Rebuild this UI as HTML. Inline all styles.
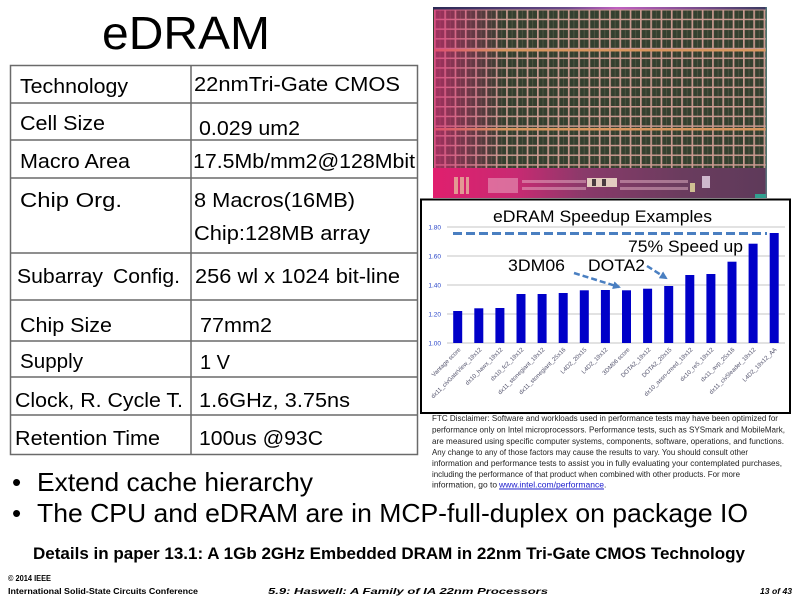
<!DOCTYPE html>
<html>
<head>
<meta charset="utf-8">
<style>
  html,body{margin:0;padding:0;background:#fff;}
  body{width:800px;height:600px;overflow:hidden;}
  svg{display:block;}
  .t{font-family:"Liberation Sans",Arial,sans-serif;}
</style>
</head>
<body>
<svg width="800" height="600" viewBox="0 0 800 600" xmlns="http://www.w3.org/2000/svg">
  <defs>
    <pattern id="grid" patternUnits="userSpaceOnUse" x="434" y="9" width="10.3" height="9.7">
      <rect width="10.3" height="9.7" fill="#34402f"/>
      <rect x="0" y="0" width="1.7" height="9.7" fill="#c99a90"/>
      <rect x="0" y="0" width="10.3" height="1.5" fill="#c99a90"/>
      <rect x="5.6" y="1.5" width="0.8" height="8.2" fill="#5a5a48"/>
    </pattern>
    <linearGradient id="leftmag" x1="0" y1="0" x2="1" y2="0">
      <stop offset="0" stop-color="#e0287a" stop-opacity="0.65"/>
      <stop offset="1" stop-color="#e0287a" stop-opacity="0"/>
    </linearGradient>
    <linearGradient id="peri" x1="0" y1="0" x2="1" y2="0">
      <stop offset="0" stop-color="#e01f6e"/>
      <stop offset="0.25" stop-color="#c82a72"/>
      <stop offset="0.45" stop-color="#8a3a6a"/>
      <stop offset="0.75" stop-color="#6a3c5e"/>
      <stop offset="1" stop-color="#5e3a5a"/>
    </linearGradient>
    <linearGradient id="topstrip" x1="0" y1="0" x2="1" y2="0">
      <stop offset="0" stop-color="#2a2a55"/>
      <stop offset="0.4" stop-color="#6a4a8a"/>
      <stop offset="0.55" stop-color="#c060c0"/>
      <stop offset="1" stop-color="#3a3a60"/>
    </linearGradient>
    <marker id="ah" markerWidth="8" markerHeight="8" refX="6" refY="4" orient="auto" markerUnits="userSpaceOnUse">
      <path d="M0,0 L8,4 L0,8 z" fill="#4a7fc1"/>
    </marker>
  </defs>

  <!-- Title -->
  <text class="t" x="102" y="49" font-size="46" textLength="168" lengthAdjust="spacingAndGlyphs" fill="#000">eDRAM</text>

  <!-- Table -->
  <g stroke="#6a6a6a" stroke-width="1.5" fill="none">
    <rect x="10.5" y="65.5" width="407" height="389"/>
    <line x1="191" y1="65.5" x2="191" y2="454.5"/>
    <line x1="10.5" y1="103" x2="417.5" y2="103"/>
    <line x1="10.5" y1="140" x2="417.5" y2="140"/>
    <line x1="10.5" y1="178" x2="417.5" y2="178"/>
    <line x1="10.5" y1="253" x2="417.5" y2="253"/>
    <line x1="10.5" y1="300" x2="417.5" y2="300"/>
    <line x1="10.5" y1="341" x2="417.5" y2="341"/>
    <line x1="10.5" y1="377" x2="417.5" y2="377"/>
    <line x1="10.5" y1="415" x2="417.5" y2="415"/>
  </g>
  <g class="t" font-size="20" fill="#000">
    <text x="20" y="93" textLength="108" lengthAdjust="spacingAndGlyphs">Technology</text>
    <text x="20" y="130" textLength="85" lengthAdjust="spacingAndGlyphs">Cell Size</text>
    <text x="20" y="168" textLength="110" lengthAdjust="spacingAndGlyphs">Macro Area</text>
    <text x="20" y="207" textLength="102" lengthAdjust="spacingAndGlyphs">Chip Org.</text>
    <text x="17" y="283" textLength="86" lengthAdjust="spacingAndGlyphs">Subarray</text>
    <text x="113" y="283" textLength="67" lengthAdjust="spacingAndGlyphs">Config.</text>
    <text x="20" y="332" textLength="92" lengthAdjust="spacingAndGlyphs">Chip Size</text>
    <text x="20" y="368" textLength="63" lengthAdjust="spacingAndGlyphs">Supply</text>
    <text x="15" y="407" textLength="168" lengthAdjust="spacingAndGlyphs">Clock, R. Cycle T.</text>
    <text x="15" y="445" textLength="145" lengthAdjust="spacingAndGlyphs">Retention Time</text>

    <text x="194" y="91" textLength="206" lengthAdjust="spacingAndGlyphs">22nmTri-Gate CMOS</text>
    <text x="199" y="135" textLength="101" lengthAdjust="spacingAndGlyphs">0.029 um2</text>
    <text x="193" y="168" textLength="222" lengthAdjust="spacingAndGlyphs">17.5Mb/mm2@128Mbit</text>
    <text x="194" y="207" textLength="161" lengthAdjust="spacingAndGlyphs">8 Macros(16MB)</text>
    <text x="194" y="240" textLength="176" lengthAdjust="spacingAndGlyphs">Chip:128MB array</text>
    <text x="195" y="283" textLength="205" lengthAdjust="spacingAndGlyphs">256 wl x 1024 bit-line</text>
    <text x="200" y="332" textLength="72" lengthAdjust="spacingAndGlyphs">77mm2</text>
    <text x="200" y="369" textLength="30" lengthAdjust="spacingAndGlyphs">1 V</text>
    <text x="199" y="407" textLength="151" lengthAdjust="spacingAndGlyphs">1.6GHz, 3.75ns</text>
    <text x="199" y="445" textLength="124" lengthAdjust="spacingAndGlyphs">100us @93C</text>
  </g>

  <!-- Die photo -->
  <g>
    <rect x="433" y="7" width="334" height="191" fill="#34402f"/>
    <rect x="434" y="9" width="332" height="159" fill="url(#grid)"/>
    <rect x="434" y="49" width="332" height="2.5" fill="#d8965e"/>
    <rect x="434" y="128" width="332" height="2.5" fill="#d8965e"/>
    <rect x="434" y="9" width="70" height="159" fill="url(#leftmag)"/>
    <rect x="433" y="7" width="334" height="2.5" fill="url(#topstrip)"/>
    <rect x="433" y="168" width="334" height="30" fill="url(#peri)"/>
    <g fill="#e8c0a0" opacity="0.75">
      <rect x="454" y="177" width="4" height="17"/>
      <rect x="460" y="177" width="4" height="17"/>
      <rect x="466" y="177" width="3" height="17"/>
    </g>
    <g fill="#f0c0d0" opacity="0.45">
      <rect x="488" y="178" width="30" height="15"/>
      <rect x="522" y="180" width="64" height="3"/>
      <rect x="522" y="187" width="64" height="3"/>
      <rect x="620" y="180" width="68" height="3"/>
      <rect x="620" y="187" width="68" height="3"/>
    </g>
    <g fill="#f4e6d0" opacity="0.85">
      <rect x="587" y="178" width="30" height="9"/>
    </g>
    <rect x="592" y="179" width="4" height="7" fill="#4a3a40"/>
    <rect x="602" y="179" width="4" height="7" fill="#4a3a40"/>
    <rect x="702" y="176" width="8" height="12" fill="#e8d8e8" opacity="0.8"/>
    <rect x="690" y="183" width="5" height="9" fill="#e8e0a0" opacity="0.8"/>
    <rect x="755" y="194" width="11" height="4" fill="#30a090"/>
    <rect x="765.5" y="7" width="1.5" height="191" fill="#5a8a8a" opacity="0.7"/>
  </g>

  <!-- Chart box -->
  <rect x="421" y="199.5" width="369" height="213.5" fill="#fff" stroke="#000" stroke-width="2"/>

  <!-- gridlines -->
  <g stroke="#c4c4c4" stroke-width="1">
    <line x1="447" y1="227" x2="785" y2="227"/>
    <line x1="447" y1="256" x2="785" y2="256"/>
    <line x1="447" y1="285" x2="785" y2="285"/>
    <line x1="447" y1="314" x2="785" y2="314"/>
    <line x1="447" y1="343" x2="785" y2="343"/>
  </g>
  <g class="t" font-size="6.5" fill="#2a46c8" text-anchor="end">
    <text x="441" y="229.5">1.80</text>
    <text x="441" y="258.5">1.60</text>
    <text x="441" y="287.5">1.40</text>
    <text x="441" y="316.5">1.20</text>
    <text x="441" y="345.5">1.00</text>
  </g>

  <!-- bars -->
  <g fill="#0000c8">
    <rect x="453.2" y="311" width="9" height="32"/>
    <rect x="474.3" y="308.3" width="9" height="34.7"/>
    <rect x="495.4" y="308" width="9" height="35"/>
    <rect x="516.5" y="294" width="9" height="49"/>
    <rect x="537.6" y="294" width="9" height="49"/>
    <rect x="558.7" y="293" width="9" height="50"/>
    <rect x="579.8" y="290.3" width="9" height="52.7"/>
    <rect x="600.9" y="290" width="9" height="53"/>
    <rect x="622.0" y="290.3" width="9" height="52.7"/>
    <rect x="643.1" y="288.7" width="9" height="54.3"/>
    <rect x="664.2" y="286" width="9" height="57"/>
    <rect x="685.3" y="275" width="9" height="68"/>
    <rect x="706.4" y="274" width="9" height="69"/>
    <rect x="727.5" y="261.7" width="9" height="81.3"/>
    <rect x="748.6" y="243.7" width="9" height="99.3"/>
    <rect x="769.7" y="233" width="9" height="110"/>
  </g>

  <!-- dashed 75% line -->
  <line x1="453" y1="233.5" x2="767" y2="233.5" stroke="#4a7fc1" stroke-width="3" stroke-dasharray="9 4"/>

  <!-- x labels -->
  <g class="t" font-size="6" fill="#50506a" text-anchor="end">
    <text transform="translate(461,350) rotate(-45)">Vantage score</text>
    <text transform="translate(482,350) rotate(-45)">dx11_civGateView_19x12</text>
    <text transform="translate(503,350) rotate(-45)">dx10_hawx_19x12</text>
    <text transform="translate(524,350) rotate(-45)">dx10_fc2_19x12</text>
    <text transform="translate(545,350) rotate(-45)">dx11_stonegiant_19x12</text>
    <text transform="translate(566,350) rotate(-45)">dx11_stonegiant_25x16</text>
    <text transform="translate(587,350) rotate(-45)">L4D2_20x15</text>
    <text transform="translate(608,350) rotate(-45)">L4D2_19x12</text>
    <text transform="translate(630,350) rotate(-45)">3DM06 score</text>
    <text transform="translate(651,350) rotate(-45)">DOTA2_19x12</text>
    <text transform="translate(672,350) rotate(-45)">DOTA2_20x15</text>
    <text transform="translate(693,350) rotate(-45)">dx10_assn-creed_19x12</text>
    <text transform="translate(714,350) rotate(-45)">dx10_re5_19x12</text>
    <text transform="translate(735,350) rotate(-45)">dx11_avp_25x16</text>
    <text transform="translate(756,350) rotate(-45)">dx11_civ5leader_19x12</text>
    <text transform="translate(777,350) rotate(-45)">L4D2_19x12_AA</text>
  </g>

  <!-- chart title & annotations -->
  <text class="t" x="493" y="222" font-size="17" textLength="219" lengthAdjust="spacingAndGlyphs" fill="#000">eDRAM Speedup Examples</text>
  <text class="t" x="628" y="252" font-size="17" textLength="115" lengthAdjust="spacingAndGlyphs" fill="#000">75% Speed up</text>
  <text class="t" x="508" y="271" font-size="17" textLength="57" lengthAdjust="spacingAndGlyphs" fill="#000">3DM06</text>
  <text class="t" x="588" y="271" font-size="17" textLength="57" lengthAdjust="spacingAndGlyphs" fill="#000">DOTA2</text>
  <line x1="574" y1="273" x2="619" y2="287" stroke="#4a7fc1" stroke-width="2.5" stroke-dasharray="6 3" marker-end="url(#ah)"/>
  <line x1="647" y1="266" x2="666" y2="278" stroke="#4a7fc1" stroke-width="2.5" stroke-dasharray="6 3" marker-end="url(#ah)"/>

  <!-- disclaimer -->
  <g class="t" font-size="8.6" fill="#222">
    <text x="432" y="421" textLength="346" lengthAdjust="spacingAndGlyphs">FTC Disclaimer: Software and workloads used in performance tests may have been optimized for</text>
    <text x="432" y="432.5" textLength="353" lengthAdjust="spacingAndGlyphs">performance only on Intel microprocessors. Performance tests, such as SYSmark and MobileMark,</text>
    <text x="432" y="444" textLength="352" lengthAdjust="spacingAndGlyphs">are measured using specific computer systems, components, software, operations, and functions.</text>
    <text x="432" y="455" textLength="316" lengthAdjust="spacingAndGlyphs">Any change to any of those factors may cause the results to vary. You should consult other</text>
    <text x="432" y="466" textLength="350" lengthAdjust="spacingAndGlyphs">information and performance tests to assist you in fully evaluating your contemplated purchases,</text>
    <text x="432" y="477" textLength="308" lengthAdjust="spacingAndGlyphs">including the performance of that product when combined with other products. For more</text>
    <text x="432" y="487.5" textLength="65" lengthAdjust="spacingAndGlyphs">information, go to</text>
    <text x="499" y="487.5" textLength="105" lengthAdjust="spacingAndGlyphs" fill="#1a1acc" text-decoration="underline">www.intel.com/performance</text>
    <text x="604" y="487.5">.</text>
  </g>
  <line x1="499" y1="489" x2="604" y2="489" stroke="#1a1acc" stroke-width="0.7"/>

  <!-- bullets -->
  <g class="t" font-size="26" fill="#000">
    <text x="12" y="491">•</text>
    <text x="37" y="491" textLength="276" lengthAdjust="spacingAndGlyphs">Extend cache hierarchy</text>
    <text x="12" y="522">•</text>
    <text x="37" y="522" textLength="711" lengthAdjust="spacingAndGlyphs">The CPU and eDRAM are in MCP-full-duplex on package IO</text>
  </g>

  <!-- details -->
  <text class="t" x="33" y="559" font-size="17" font-weight="bold" textLength="712" lengthAdjust="spacingAndGlyphs" fill="#000">Details in paper 13.1: A 1Gb 2GHz Embedded DRAM in 22nm Tri-Gate CMOS Technology</text>

  <!-- footer -->
  <g class="t" font-weight="bold" fill="#000">
    <text x="8" y="581" font-size="8" textLength="43" lengthAdjust="spacingAndGlyphs">© 2014 IEEE</text>
    <text x="8" y="594" font-size="8.5" textLength="190" lengthAdjust="spacingAndGlyphs">International Solid-State Circuits Conference</text>
    <text x="268" y="594" font-size="8.5" font-style="italic" textLength="280" lengthAdjust="spacingAndGlyphs">5.9: Haswell: A Family of IA 22nm Processors</text>
    <text x="760" y="594" font-size="8.5" font-style="italic" textLength="32" lengthAdjust="spacingAndGlyphs">13 of 43</text>
  </g>
</svg>
</body>
</html>
